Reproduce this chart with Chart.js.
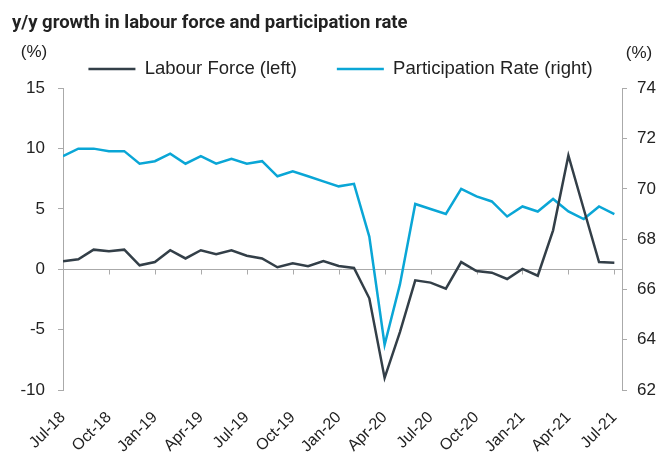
<!DOCTYPE html>
<html>
<head>
<meta charset="utf-8">
<script src="https://cdn.jsdelivr.net/npm/chart.js@4"></script>
<style>
  html, body { margin: 0; padding: 0; background: #fff; }
  #wrap { width: 669px; height: 452px; }
</style>
</head>
<body>
<div id="wrap"><canvas id="lfChart"></canvas></div>
<script>
// monthly, Jul-18 .. Jul-21
const months = ['Jul-18', 'Aug-18', 'Sep-18', 'Oct-18', 'Nov-18', 'Dec-18', 'Jan-19', 'Feb-19', 'Mar-19',
    'Apr-19', 'May-19', 'Jun-19', 'Jul-19', 'Aug-19', 'Sep-19', 'Oct-19', 'Nov-19', 'Dec-19',
    'Jan-20', 'Feb-20', 'Mar-20', 'Apr-20', 'May-20', 'Jun-20', 'Jul-20', 'Aug-20', 'Sep-20',
    'Oct-20', 'Nov-20', 'Dec-20', 'Jan-21', 'Feb-21', 'Mar-21', 'Apr-21', 'May-21', 'Jun-21', 'Jul-21'];
const xTickLabels = ['Jul-18', 'Oct-18', 'Jan-19', 'Apr-19', 'Jul-19', 'Oct-19', 'Jan-20',
    'Apr-20', 'Jul-20', 'Oct-20', 'Jan-21', 'Apr-21', 'Jul-21'];

// y/y growth, % (left axis)
const labourForce = [0.66, 0.83, 1.63, 1.5, 1.63, 0.33, 0.6, 1.58, 0.9, 1.58,
    1.25, 1.58, 1.13, 0.9, 0.17, 0.5, 0.25, 0.69, 0.28, 0.11,
    -2.4, -9.0, -5.2, -0.91, -1.1, -1.6, 0.6, -0.14, -0.28, -0.8,
    0.03, -0.53, 3.23, 9.43, 5.0, 0.6, 0.55];
// participation rate, % (right axis)
const participation = [71.3, 71.6, 71.6, 71.5, 71.5, 71.0, 71.1, 71.4, 71.0, 71.3,
    71.0, 71.2, 71.0, 71.1, 70.5, 70.7, 70.5, 70.3, 70.1, 70.2,
    68.1, 63.8, 66.2, 69.4, 69.2, 69.0, 70.0, 69.7, 69.5, 68.9,
    69.3, 69.1, 69.6, 69.1, 68.8, 69.3, 69.0];

const axisGrey = '#aaaaaa';
const textCol = '#222222';
const fontFam = 'Arial, "Liberation Sans", sans-serif';

// zero line with small tick marks hanging below it
const zeroLine = {
    id: 'zeroLine',
    beforeDatasetsDraw(chart) {
        const {ctx, chartArea, scales} = chart;
        const y0 = Math.round(scales.y.getPixelForValue(0)) + 0.5;
        ctx.save();
        ctx.strokeStyle = axisGrey;
        ctx.lineWidth = 1;
        ctx.beginPath();
        ctx.moveTo(chartArea.left, y0);
        ctx.lineTo(chartArea.right, y0);
        scales.x.ticks.forEach(t => {
            const px = Math.round(scales.x.getPixelForValue(t.value)) + 0.5;
            ctx.moveTo(px, y0);
            ctx.lineTo(px, y0 + 5);
        });
        ctx.stroke();
        ctx.restore();
    }
};

// "(%)" units above both axes
const unitLabels = {
    id: 'unitLabels',
    afterDraw(chart) {
        const {ctx, chartArea} = chart;
        ctx.save();
        ctx.font = '17px ' + fontFam;
        ctx.fillStyle = textCol;
        ctx.textAlign = 'center';
        ctx.textBaseline = 'middle';
        ctx.fillText('(%)', chartArea.left - 29, 52);
        ctx.fillText('(%)', chartArea.right + 17, 53);
        ctx.restore();
    }
};

const ctx = document.getElementById('lfChart').getContext('2d');
new Chart(ctx, {
    type: 'line',
    data: {
        datasets: [
            {
                label: 'Labour Force (left)',
                data: labourForce.map((v, i) => ({x: i, y: v})),
                borderColor: '#333f48',
                backgroundColor: '#333f48',
                borderWidth: 2.5,
                pointRadius: 0,
                yAxisID: 'y'
            },
            {
                label: 'Participation Rate (right)',
                data: participation.map((v, i) => ({x: i, y: v})),
                borderColor: '#0aa6d6',
                backgroundColor: '#0aa6d6',
                borderWidth: 2.5,
                pointRadius: 0,
                yAxisID: 'y1'
            }
        ]
    },
    options: {
        responsive: true,
        maintainAspectRatio: false,
        animation: false,
        layout: { padding: { left: 12, right: 0, top: 0, bottom: 0 } },
        scales: {
            x: {
                type: 'linear',
                min: 0,
                max: 36.5,
                afterBuildTicks: (scale) => {
                    scale.ticks = xTickLabels.map(l => ({ value: months.indexOf(l) }));
                },
                afterFit: (scale) => { scale.height = 62; },
                ticks: {
                    callback: (v) => months[v],
                    autoSkip: false,
                    minRotation: 45,
                    maxRotation: 45,
                    padding: 18,
                    color: textCol,
                    font: { size: 16, family: fontFam }
                },
                grid: { display: false, drawTicks: false },
                border: { display: false }
            },
            y: {
                position: 'left',
                min: -10,
                max: 15,
                afterFit: (scale) => { scale.width = 51; },
                ticks: {
                    stepSize: 5,
                    padding: 13,
                    color: textCol,
                    font: { size: 17, family: fontFam }
                },
                grid: { drawOnChartArea: false, color: axisGrey, tickLength: 5 },
                border: { color: axisGrey }
            },
            y1: {
                position: 'right',
                min: 62,
                max: 74,
                afterFit: (scale) => { scale.width = 47; },
                ticks: {
                    stepSize: 2,
                    padding: 10,
                    color: textCol,
                    font: { size: 17, family: fontFam }
                },
                grid: { drawOnChartArea: false, color: axisGrey, tickLength: 5 },
                border: { color: axisGrey }
            }
        },
        plugins: {
            title: {
                display: true,
                align: 'start',
                text: 'y/y growth in labour force and participation rate',
                color: textCol,
                font: { size: 18.5, weight: 'bold', family: 'Roboto, Arial, sans-serif' },
                padding: { top: 12, bottom: -14.4 }
            },
            legend: {
                display: true,
                position: 'top',
                fullSize: true,
                labels: {
                    usePointStyle: true,
                    pointStyle: 'line',
                    pointStyleWidth: 47,
                    padding: 40,
                    color: textCol,
                    font: { size: 18.5, family: fontFam }
                }
            },
            tooltip: { enabled: false }
        }
    },
    plugins: [zeroLine, unitLabels]
});
</script>
</body>
</html>
